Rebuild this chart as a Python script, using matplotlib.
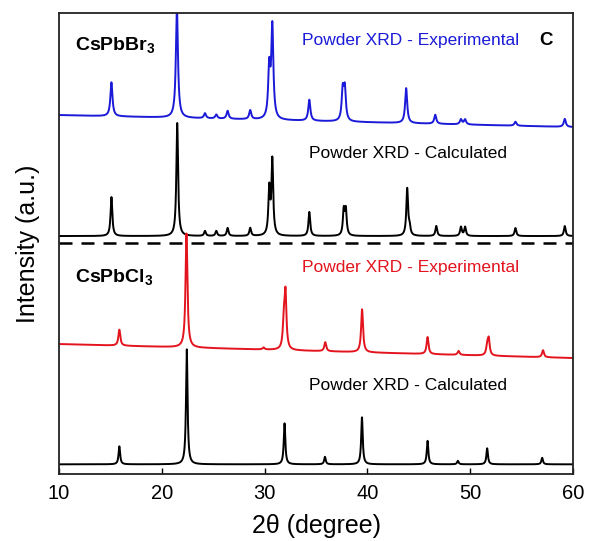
import matplotlib
matplotlib.use('Agg')
import matplotlib.pyplot as plt
import numpy as np

plt.rcParams['font.family'] = ['Liberation Sans', 'DejaVu Sans']
plt.rcParams['mathtext.fontset'] = 'custom'
plt.rcParams['mathtext.rm'] = 'Liberation Sans'
plt.rcParams['mathtext.bf'] = 'Liberation Sans:bold'

# peak positions (2theta) and heights (a.u.)
br_exp_pos = [15.1, 21.47, 24.2, 25.3, 26.4, 28.6, 30.45, 30.75, 34.35, 37.6, 37.8,
              43.77, 46.6, 49.1, 49.5, 54.4, 59.2]
br_exp_h = [34, 110, 5, 4, 8, 9, 50, 92, 21, 30, 31, 35, 9, 5, 5, 4, 8]
br_exp_base = [360, 348]   # background level at 10 and 60 degree

br_calc_pos = [15.1, 21.5, 24.2, 25.3, 26.4, 28.6, 30.45, 30.75, 34.35, 37.7, 37.9,
               43.87, 44.1, 46.7, 49.1, 49.5, 54.4, 59.2]
br_calc_h = [39, 113, 5, 5, 8, 8, 46, 75, 24, 25, 25, 47, 8, 10, 9, 9, 8, 10]
br_calc_base = [239, 239]

cl_exp_pos = [15.87, 22.4, 29.9, 31.87, 32.03, 35.9, 39.48, 45.85, 48.87, 51.65, 51.8, 57.08]
cl_exp_h = [16, 114, 2, 26, 55, 9, 43, 17, 4, 9, 16, 7]
cl_exp_base = [131, 117]

cl_calc_pos = [15.87, 22.43, 31.94, 35.87, 39.47, 45.85, 48.8, 51.65, 57.0]
cl_calc_h = [18, 115, 41, 7.5, 47, 23.5, 3.5, 16, 6.5]
cl_calc_base = [10.7, 10.7]

two_theta = np.arange(10, 60.001, 0.01)


def pattern(pos, h, base, w):
    y = base[0] + (base[1] - base[0]) * (two_theta - 10) / 50
    for p, a in zip(pos, h):
        y = y + a * (w / 2) ** 2 / ((two_theta - p) ** 2 + (w / 2) ** 2)
    return y


fig = plt.figure(figsize=(5.9, 5.41), dpi=100)
ax = fig.add_axes([0.1, 0.1238, 0.8712, 0.852])

ax.plot(two_theta, pattern(br_exp_pos, br_exp_h, br_exp_base, 0.24), c='#1a1ad8', lw=1.4)
ax.plot(two_theta, pattern(br_calc_pos, br_calc_h, br_calc_base, 0.2), c='black', lw=1.4)
ax.plot(two_theta, pattern(cl_calc_pos, cl_calc_h, cl_calc_base, 0.18), c='black', lw=1.4)
ax.plot(two_theta, pattern(cl_exp_pos, cl_exp_h, cl_exp_base, 0.22), c='#e3141e', lw=1.4)

ax.axhline(231.7, c='black', lw=1.8, dashes=(5.2, 3.6))

ax.text(0.032, 0.930, r'CsPbBr$_\mathbf{3}$', transform=ax.transAxes, fontsize=14,
        fontweight='bold', va='center')
ax.text(0.473, 0.941, 'Powder XRD - Experimental', transform=ax.transAxes, fontsize=12.5,
        color='#1a1ad8', va='center')
ax.text(0.948, 0.941, 'C', transform=ax.transAxes, fontsize=13.5, fontweight='bold',
        va='center', ha='center')
ax.text(0.487, 0.696, 'Powder XRD - Calculated', transform=ax.transAxes, fontsize=12.5,
        va='center')
ax.text(0.032, 0.425, r'CsPbCl$_\mathbf{3}$', transform=ax.transAxes, fontsize=14,
        fontweight='bold', va='center')
ax.text(0.473, 0.447, 'Powder XRD - Experimental', transform=ax.transAxes, fontsize=12.5,
        color='#e3141e', va='center')
ax.text(0.487, 0.191, 'Powder XRD - Calculated', transform=ax.transAxes, fontsize=12.5,
        va='center')

ax.set_xlim(10, 60)
ax.set_ylim(1, 462)
ax.set_xticks(np.arange(10, 61, 10))
ax.set_yticks([])
ax.tick_params(axis='x', direction='in', length=4, width=1, labelsize=14.5, pad=7)
ax.set_xlabel('2θ (degree)', fontsize=18, labelpad=8)
ax.set_ylabel('Intensity (a.u.)', fontsize=18, labelpad=14)
for s in ax.spines.values():
    s.set_linewidth(1.3)
    s.set_color('#222222')

fig.savefig('out.png', dpi=100)
